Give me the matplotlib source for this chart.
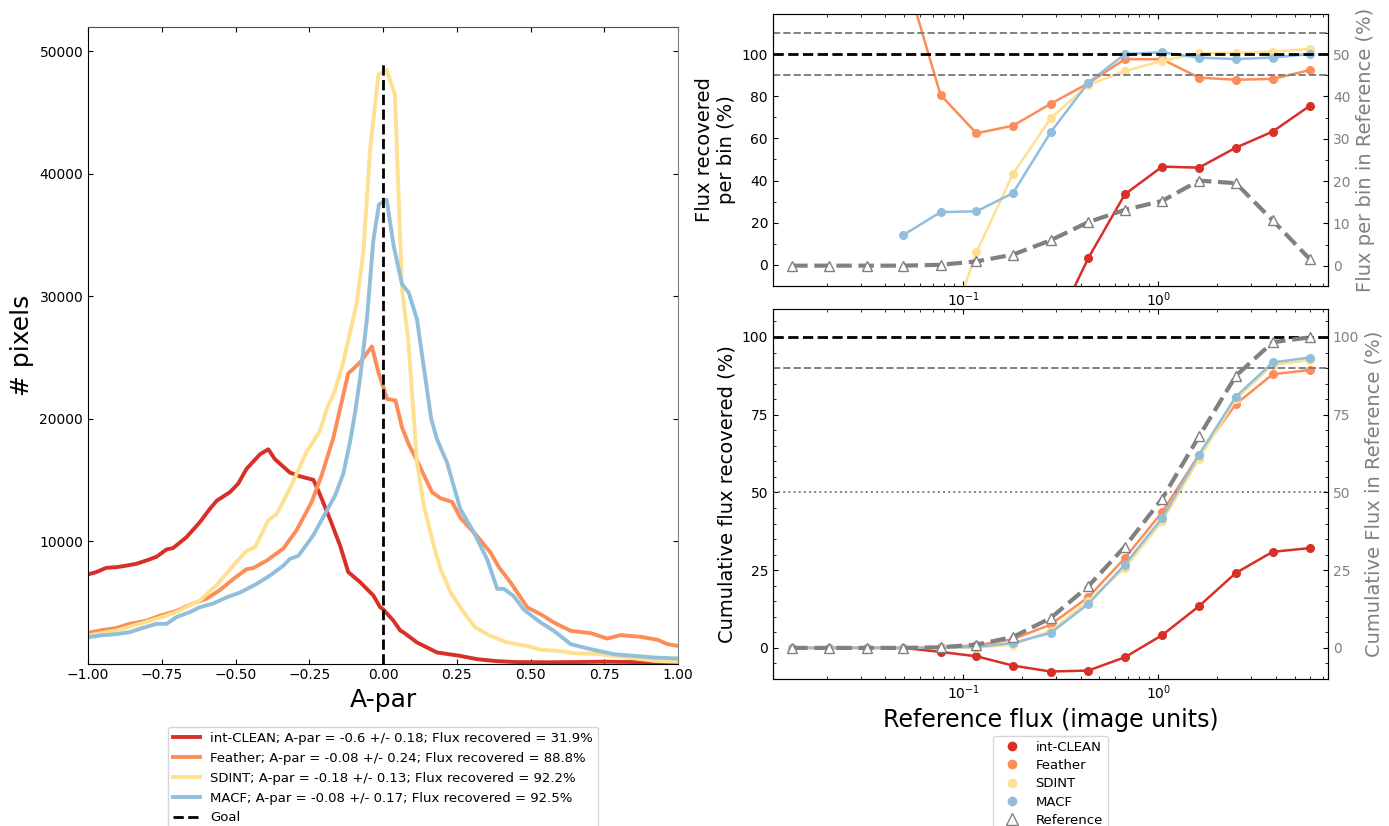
import numpy as np
import matplotlib.pyplot as plt
from matplotlib.lines import Line2D
from matplotlib.ticker import AutoMinorLocator

# colours (RdYlBu)
c_clean = '#d73027'
c_feather = '#fc8d59'
c_sdint = '#fee090'
c_macf = '#91bfdb'

# ---- A-par histograms (x, thousands of pixels) ----
clean_x = [-1.0, -0.972, -0.938, -0.904, -0.87, -0.836, -0.802, -0.768, -0.734, -0.712, -0.666, -0.621,
           -0.587, -0.564, -0.519, -0.491, -0.463, -0.417, -0.389, -0.367, -0.316, -0.282, -0.236, -0.219,
           -0.18, -0.146, -0.118, -0.078, -0.033, -0.01, 0.0, 0.035, 0.058, 0.07, 0.115, 0.183, 0.26, 0.32,
           0.387, 0.45, 0.55, 0.65, 0.75, 0.85, 0.92, 1.0]
clean_y = [7.28, 7.47, 7.82, 7.87, 8.0, 8.15, 8.42, 8.72, 9.32, 9.43, 10.33, 11.55,
           12.64, 13.3, 14.0, 14.7, 15.9, 17.1, 17.5, 16.7, 15.6, 15.3, 15.0, 14.1,
           11.8, 9.65, 7.47, 6.65, 5.56, 4.6, 4.44, 3.5, 2.7, 2.53, 1.72, 0.9, 0.63, 0.35,
           0.19, 0.12, 0.1, 0.12, 0.15, 0.12, 0.08, 0.05]

feather_x = [-1.0, -0.96, -0.904, -0.859, -0.802, -0.757, -0.7, -0.644, -0.598, -0.553, -0.508, -0.463,
             -0.44, -0.395, -0.338, -0.293, -0.242, -0.208, -0.169, -0.118, -0.078, -0.038, -0.016, 0.014,
             0.042, 0.064, 0.087, 0.115, 0.138, 0.166, 0.195, 0.234, 0.262, 0.319, 0.364, 0.393, 0.432,
             0.489, 0.534, 0.579, 0.636, 0.704, 0.76, 0.805, 0.873, 0.93, 0.964, 1.0]
feather_y = [2.5, 2.7, 2.9, 3.24, 3.5, 3.9, 4.3, 4.9, 5.3, 6.0, 6.9, 7.7,
             7.8, 8.4, 9.4, 10.9, 13.2, 15.4, 18.4, 23.7, 24.6, 25.9, 23.8, 21.6,
             21.5, 19.3, 17.9, 16.6, 15.4, 14.0, 13.5, 13.2, 11.9, 10.4, 9.07, 7.85, 6.62,
             4.58, 4.03, 3.35, 2.67, 2.48, 2.04, 2.32, 2.18, 1.94, 1.58, 1.44]

sdint_x = [-1.0, -0.904, -0.802, -0.7, -0.621, -0.564, -0.508, -0.463, -0.434, -0.389, -0.361, -0.316,
           -0.259, -0.214, -0.191, -0.163, -0.135, -0.123, -0.089, -0.067, -0.044, -0.016, 0.012, 0.04,
           0.053, 0.064, 0.085, 0.115, 0.138, 0.172, 0.195, 0.229, 0.274, 0.313, 0.364, 0.421, 0.489,
           0.534, 0.59, 0.647, 0.738, 0.828, 0.919, 1.0]
sdint_y = [2.29, 2.7, 3.4, 4.2, 5.15, 6.4, 8.0, 9.2, 9.5, 11.7, 12.2, 14.3,
           17.3, 19.0, 20.8, 22.3, 24.6, 25.9, 29.5, 33.6, 42.0, 48.1, 48.5, 46.5,
           37.9, 30.6, 26.5, 16.4, 12.9, 9.6, 7.7, 5.8, 4.17, 2.94, 2.26, 1.72, 1.44,
           1.12, 1.04, 0.85, 0.76, 0.49, 0.22, 0.14]

macf_x = [-1.0, -0.96, -0.904, -0.859, -0.825, -0.768, -0.734, -0.7, -0.655, -0.621, -0.576, -0.531,
          -0.485, -0.429, -0.383, -0.338, -0.316, -0.287, -0.236, -0.202, -0.163, -0.135, -0.112, -0.095,
          -0.078, -0.055, -0.033, -0.014, 0.012, 0.036, 0.064, 0.087, 0.115, 0.144, 0.163, 0.183, 0.217,
          0.262, 0.308, 0.353, 0.387, 0.41, 0.443, 0.477, 0.534, 0.579, 0.636, 0.704, 0.783, 0.851,
          0.919, 1.0]
macf_y = [2.15, 2.29, 2.4, 2.56, 2.83, 3.24, 3.24, 3.8, 4.2, 4.6, 4.9, 5.4,
          5.8, 6.5, 7.2, 8.0, 8.55, 8.8, 10.5, 12.0, 13.7, 15.5, 18.1, 20.5,
          23.3, 28.1, 34.6, 37.5, 37.9, 34.1, 31.0, 30.3, 28.1, 23.2, 20.0, 18.3, 16.4,
          12.6, 10.7, 8.5, 6.1, 6.1, 5.5, 4.4, 3.35, 2.67, 1.58, 1.17, 0.76, 0.63,
          0.49, 0.41]

labels_left = ['int-CLEAN; A-par = -0.6 +/- 0.18; Flux recovered = 31.9%',
               'Feather; A-par = -0.08 +/- 0.24; Flux recovered = 88.8%',
               'SDINT; A-par = -0.18 +/- 0.13; Flux recovered = 92.2%',
               'MACF; A-par = -0.08 +/- 0.17; Flux recovered = 92.5%']
goal_top = 49000

# ---- flux recovery vs reference flux ----
ref_flux = [0.0133, 0.0206, 0.032, 0.0492, 0.0766, 0.117, 0.18, 0.281, 0.438, 0.675, 1.048, 1.617,
            2.5, 3.86, 6.0]

# per bin (%), series start at different bins
bin_clean_x = ref_flux[7:]
bin_clean = [-34, 3.2, 33.5, 46.6, 46.1, 55.6, 63.2, 75.5]
bin_feather_x = ref_flux[3:]
bin_feather = [141, 80.6, 62.4, 66.0, 76.4, 86.1, 97.6, 97.5, 88.8, 87.8, 88.2, 92.4]
bin_sdint_x = ref_flux[4:]
bin_sdint = [-43, 6.0, 43.1, 69.5, 85.3, 91.9, 96.8, 100.3, 100.6, 101.1, 102.4]
bin_macf_x = ref_flux[3:]
bin_macf = [14.1, 25.0, 25.4, 34.0, 62.9, 86.4, 100.0, 100.8, 98.3, 97.6, 98.3, 100.0]
bin_ref = [0, 0, 0, 0, 0.2, 1.0, 2.6, 6.0, 10.3, 13.2, 15.3, 20.1, 19.5, 10.7, 1.5]

# cumulative (%)
cum_clean = [0, 0, 0, 0, -1.3, -2.7, -5.7, -7.6, -7.3, -3.0, 4.1, 13.4, 24.1, 30.9, 32.1]
cum_feather = [0, 0, 0, 0, 0.2, 0.8, 2.8, 7.5, 16.3, 28.9, 43.7, 62.1, 78.4, 88.0, 89.4]
cum_sdint = [0, 0, 0, 0, 0.1, 0.1, 1.0, 5.5, 15.0, 25.7, 40.7, 60.7, 80.0, 91.0, 92.6]
cum_macf = [0, 0, 0, 0, 0.1, 0.3, 1.6, 4.8, 14.1, 26.8, 41.8, 62.1, 80.8, 91.8, 93.4]
cum_ref = [0, 0, 0, 0, 0.2, 1.06, 3.5, 9.6, 19.8, 32.6, 48.0, 68.0, 87.5, 98.3, 99.9]

names = ['int-CLEAN', 'Feather', 'SDINT', 'MACF']
cols = [c_clean, c_feather, c_sdint, c_macf]

fig = plt.figure(figsize=(13.89, 8.26), dpi=100)

# ---------- left: A-par histograms ----------
ax = fig.add_axes([0.0634, 0.1967, 0.4248, 0.7706])
for xs, ys, c, lab in zip([clean_x, feather_x, sdint_x, macf_x],
                          [clean_y, feather_y, sdint_y, macf_y], cols, labels_left):
    ax.plot(xs, np.array(ys) * 1000, color=c, lw=2.8, label=lab)
ax.vlines(0, 0, goal_top, colors='k', linestyles='--', lw=2, label='Goal')
ax.set_xlim(-1, 1)
ax.set_ylim(0, 52000)
ax.set_yticks([10000, 20000, 30000, 40000, 50000])
ax.tick_params(direction='in', top=True, right=True, labelsize=10)
ax.spines['top'].set_color('0.3')
ax.spines['right'].set_color('0.5')
ax.set_xlabel('A-par', fontsize=18)
ax.set_ylabel('# pixels', fontsize=18)
ax.legend(loc='upper center', bbox_to_anchor=(0.5, -0.089), fontsize=9.5,
          labelspacing=0.52, borderpad=0.4)

# ---------- top right: per bin ----------
xlo, xhi = 0.0106, 7.42
ax1 = fig.add_axes([0.5565, 0.6538, 0.3996, 0.3293])
for xs, ys, c in zip([bin_clean_x, bin_feather_x, bin_sdint_x, bin_macf_x],
                     [bin_clean, bin_feather, bin_sdint, bin_macf], cols):
    ax1.plot(xs, ys, '-o', color=c, lw=1.8, ms=5.5)
ax1.axhline(100, color='k', ls='--', lw=2)
ax1.axhline(90, color='gray', ls='--', lw=1.4)
ax1.axhline(110, color='gray', ls='--', lw=1.4)
ax1.set_xscale('log')
ax1.set_xlim(xlo, xhi)
ax1.set_ylim(-10, 119)
ax1.set_yticks([0, 20, 40, 60, 80, 100])
ax1.yaxis.set_minor_locator(AutoMinorLocator(2))
ax1.tick_params(which='both', direction='in', top=True, labelsize=10)
ax1.spines['top'].set_color('0.6')
ax1.set_ylabel('Flux recovered\nper bin (%)', fontsize=14)
ax1t = ax1.twinx()
ax1t.plot(ref_flux, bin_ref, '--^', color='gray', lw=3, ms=7.5, mfc='white', mec='gray')
ax1t.set_ylim(-4.8, 59.5)
ax1t.set_yticks([0, 10, 20, 30, 40, 50])
ax1t.yaxis.set_minor_locator(AutoMinorLocator(2))
ax1t.tick_params(which='both', direction='in', labelsize=10, labelcolor='gray')
ax1t.set_ylabel('Flux per bin in Reference (%)', fontsize=14, color='gray')

# ---------- bottom right: cumulative ----------
ax2 = fig.add_axes([0.5565, 0.1780, 0.3996, 0.4479])
for ys, c in zip([cum_clean, cum_feather, cum_sdint, cum_macf], cols):
    ax2.plot(ref_flux, ys, '-o', color=c, lw=1.8, ms=5.5)
ax2.axhline(100, color='k', ls='--', lw=2)
ax2.axhline(90, color='gray', ls='--', lw=1.4)
ax2.axhline(50, color='gray', ls=':', lw=1.4)
ax2.set_xscale('log')
ax2.set_xlim(xlo, xhi)
ax2.set_ylim(-10, 109)
ax2.set_yticks([0, 25, 50, 75, 100])
ax2.yaxis.set_minor_locator(AutoMinorLocator(5))
ax2.tick_params(which='both', direction='in', top=True, labelsize=10)
ax2.spines['top'].set_color('0.6')
ax2.set_ylabel('Cumulative flux recovered (%)', fontsize=14)
ax2.set_xlabel('Reference flux (image units)', fontsize=17)
ax2t = ax2.twinx()
ax2t.plot(ref_flux, cum_ref, '--^', color='gray', lw=3, ms=7.5, mfc='white', mec='gray')
ax2t.set_ylim(-10, 109)
ax2t.set_yticks([0, 25, 50, 75, 100])
ax2t.yaxis.set_minor_locator(AutoMinorLocator(5))
ax2t.tick_params(which='both', direction='in', labelsize=10, labelcolor='gray')
ax2t.set_ylabel('Cumulative Flux in Reference (%)', fontsize=14, color='gray')

handles = [Line2D([], [], ls='none', marker='o', color=c, ms=6) for c in cols]
handles.append(Line2D([], [], ls='none', marker='^', mfc='white', mec='gray', ms=8))
ax2.legend(handles, names + ['Reference'], loc='upper center',
           bbox_to_anchor=(0.5, -0.135), fontsize=9.5, labelspacing=0.4, borderpad=0.4)

plt.savefig('out.png', dpi=100)
